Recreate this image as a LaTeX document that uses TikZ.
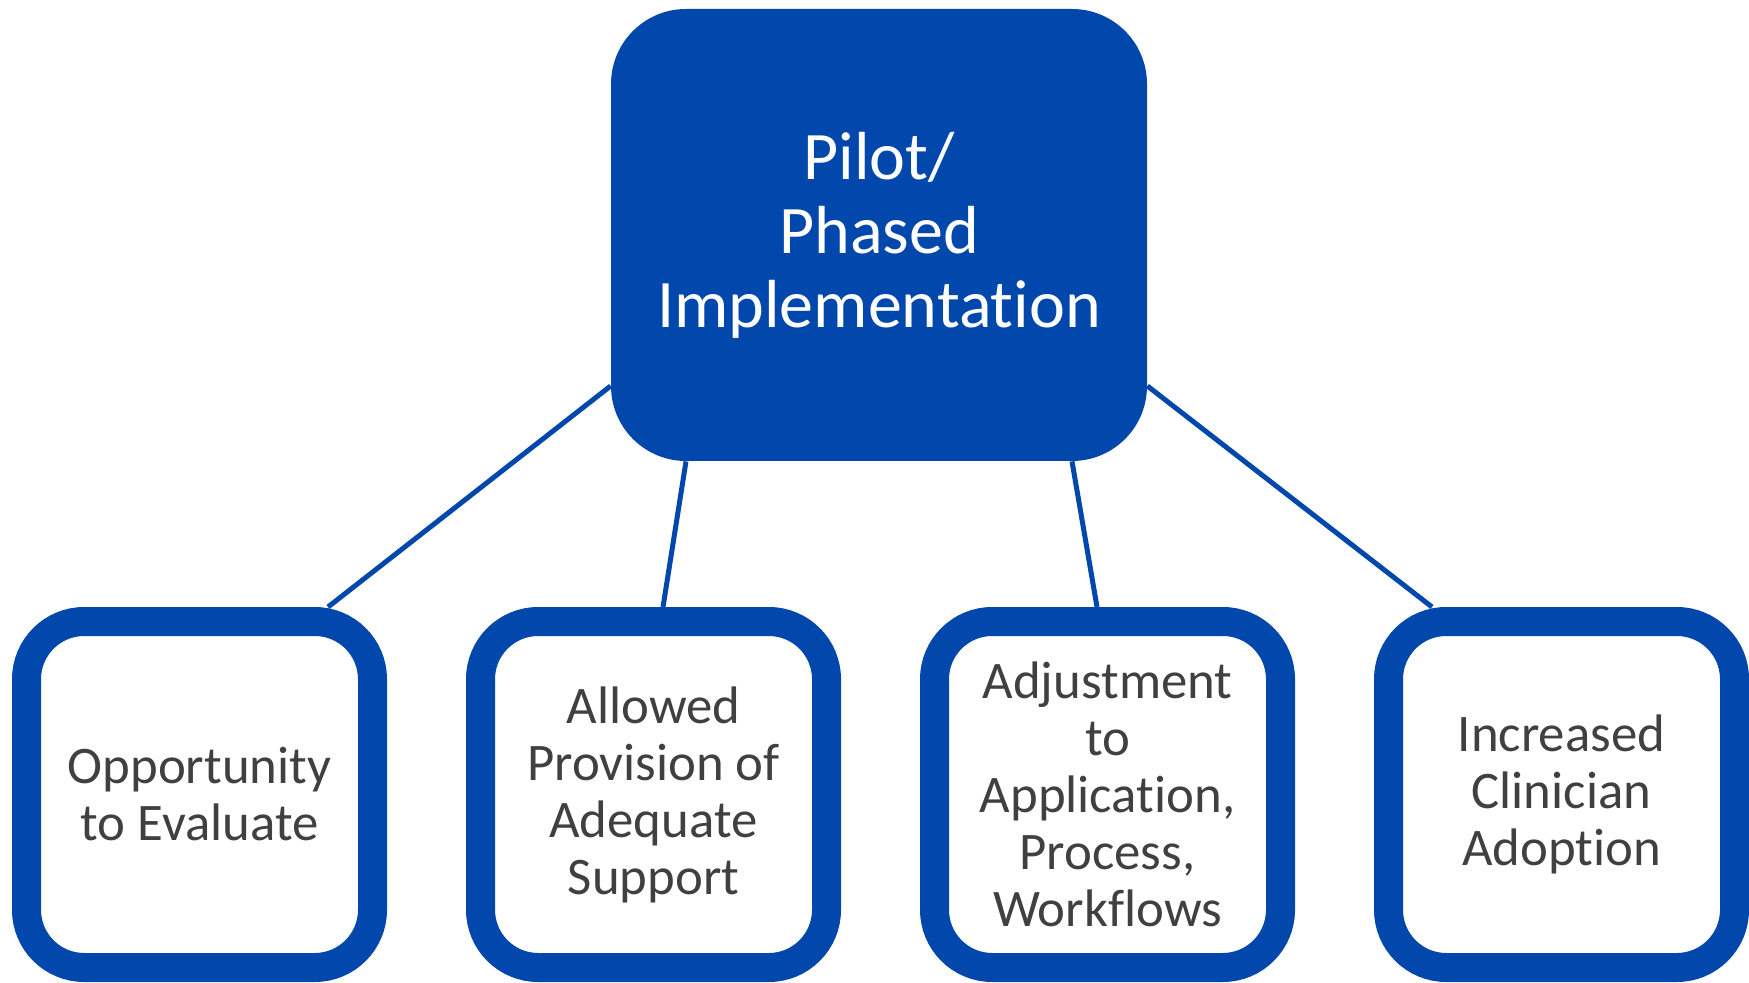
\documentclass[tikz,border=0pt]{standalone}
\usepackage{fontspec}
\setmainfont{Carlito}[Ligatures={NoCommon}]
\usetikzlibrary{calc}
\definecolor{sablue}{RGB}{2,71,172}
\definecolor{txtgray}{RGB}{64,64,64}
\tikzset{
  topbox/.style={rectangle, fill=sablue, draw=none, minimum width=268pt, minimum height=226pt,
    rounded corners=37.5pt, inner sep=0pt, align=center, text=white,
    font=\fontsize{34}{37}\selectfont},
  childbox/.style={rectangle, draw=sablue, fill=white, line width=14.5pt, minimum width=173pt,
    minimum height=173pt, rounded corners=28.85pt, inner sep=0pt, align=center, text=txtgray,
    font=\fontsize{26.4}{28.5}\selectfont},
  link/.style={draw=sablue, line width=2.5pt}
}
\begin{document}
\begin{tikzpicture}[x=0.5pt, y=-0.5pt]
\useasboundingbox (0,0) rectangle (1749,983);
\node[topbox] (top) at (879,235) {Pilot/\\Phased\\Implementation};
\node[childbox] (b1) at (199.5,794.5) {Opportunity\\to Evaluate};
\node[childbox] (b2) at (653.5,794.5) {Allowed\\Provision of\\Adequate\\Support};
\node[childbox] (b3) at (1107.5,794.5) {Adjustment\\to\\Application,\\Process,\\Workflows};
\node[childbox] (b4) at (1561.5,794.5) {Increased\\Clinician\\Adoption};
\coordinate (c1a) at ($(top.west)+(0,151)$);
\coordinate (c1b) at ($(b1.north)+(128.5,0)$);
\coordinate (c2a) at ($(top.south)+(-193,0)$);
\coordinate (c2b) at ($(b2.north)+(9.5,0)$);
\coordinate (c3a) at ($(top.south)+(193,0)$);
\coordinate (c3b) at ($(b3.north)+(-10.5,0)$);
\coordinate (c4a) at ($(top.east)+(0,151)$);
\coordinate (c4b) at ($(b4.north)+(-129.5,0)$);
\draw[link] (c1a) -- (c1b);
\draw[link] (c2a) -- (c2b);
\draw[link] (c3a) -- (c3b);
\draw[link] (c4a) -- (c4b);
\end{tikzpicture}
\end{document}
